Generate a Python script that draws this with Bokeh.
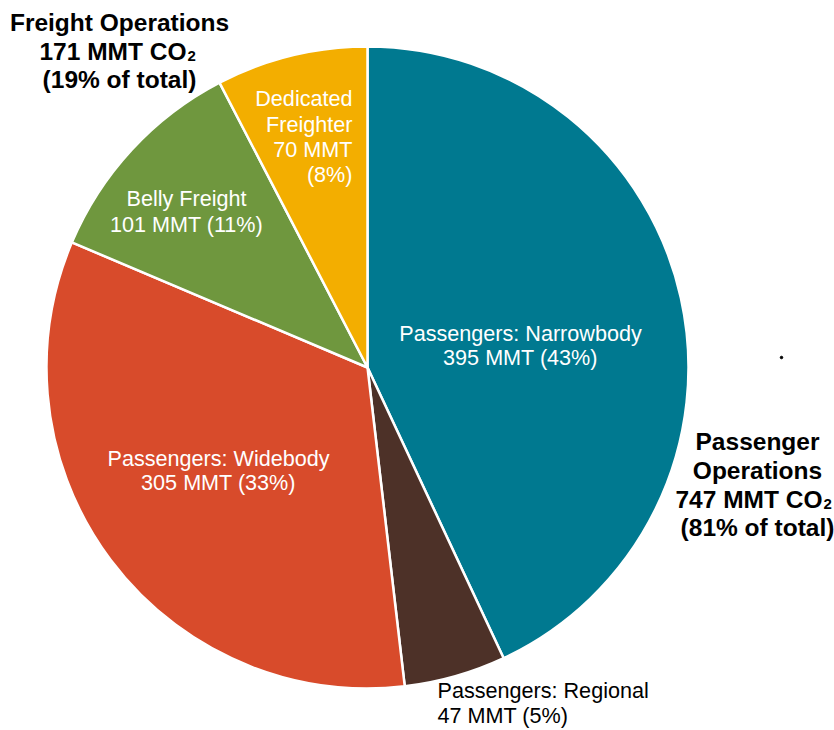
import math
from bokeh.plotting import figure
from bokeh.models import Range1d, ColumnDataSource
from bokeh.core.properties import value
from bokeh.embed import file_html
from bokeh.resources import INLINE

# ---------------- data ----------------
categories = ["Passengers: Narrowbody", "Passengers: Regional", "Passengers: Widebody",
              "Belly Freight", "Dedicated Freighter"]
emissions_mmt = [395, 47, 305, 101, 70]
shares_pct = [43, 5, 33, 11, 8]
colors = ["#007990", "#4D3128", "#D84B2B", "#6F973E", "#F3AE00"]

group_names = ["Freight Operations", "Passenger Operations"]
group_mmt = [171, 747]
group_pct = [19, 81]

# ---------------- layout ----------------
W, H = 834, 730
FONT = "Liberation Sans"
CX, CY_PAGE, R = 367, 367, 321
FS = "21.6px"
FSB = "24.5px"
TEXT_DY = -8


def Y(page_y):
    return H - page_y


def YT(page_y):
    return H - (page_y + TEXT_DY)


p = figure(width=W, height=H, output_backend="svg", toolbar_location=None,
           x_range=Range1d(0, W), y_range=Range1d(0, H), min_border=0)
p.axis.visible = False
p.grid.visible = False
p.outline_line_color = None
p.background_fill_color = "white"

total = sum(emissions_mmt)
starts, ends = [], []
cum = 0.0
for v in emissions_mmt:
    a0 = math.pi / 2 - 2 * math.pi * cum / total
    cum += v
    a1 = math.pi / 2 - 2 * math.pi * cum / total
    starts.append(a0)
    ends.append(a1)

src = ColumnDataSource(dict(start=starts, end=ends, color=colors, cat=categories))
p.wedge(x=CX, y=Y(CY_PAGE), radius=R, start_angle="start", end_angle="end",
        direction="clock", fill_color="color", line_color="white", line_width=2.5,
        source=src)

label_layout = {
    "Passengers: Narrowbody": dict(x=520, ys=[341, 365], align="center", color="white",
                                   lines=lambda c, v, s: [c, f"{v} MMT ({s}%)"]),
    "Passengers: Widebody": dict(x=218, ys=[466, 490], align="center", color="white",
                                 lines=lambda c, v, s: [c, f"{v} MMT ({s}%)"]),
    "Belly Freight": dict(x=186, ys=[206, 232], align="center", color="white",
                          lines=lambda c, v, s: [c, f"{v} MMT ({s}%)"]),
    "Dedicated Freighter": dict(x=352, ys=[106, 132, 157, 182], align="right", color="white",
                                lines=lambda c, v, s: c.split(" ") + [f"{v} MMT", f"({s}%)"]),
    "Passengers: Regional": dict(x=437, ys=[698, 723], align="left", color="black",
                                 lines=lambda c, v, s: [c, f"{v} MMT ({s}%)"]),
}

for c, v, s in zip(categories, emissions_mmt, shares_pct):
    L = label_layout[c]
    lines = L["lines"](c, v, s)
    p.text(x=[L["x"]] * len(lines), y=[YT(yy) for yy in L["ys"]], text=lines,
           text_font=value(FONT), text_font_size=FS, text_color=L["color"],
           text_align=L["align"], text_baseline="alphabetic")

group_layout = [
    dict(x=119, ys=[30, 59, 87], sub_right=186),
    dict(x=757, ys=[449, 478, 507, 535], sub_right=822),
]
for name, mmt, pct, G in zip(group_names, group_mmt, group_pct, group_layout):
    head = name.split(" ") if name.startswith("Passenger") else [name]
    ys = G["ys"]
    n = len(head)
    p.text(x=[G["x"]] * n, y=[YT(yy) for yy in ys[:n]], text=head,
           text_font=value(FONT), text_font_size=FSB, text_font_style="bold",
           text_color="black", text_align="center", text_baseline="alphabetic")
    p.text(x=[G["sub_right"]], y=[YT(ys[n])], text=[f"{mmt} MMT CO"],
           text_font=value(FONT), text_font_size=FSB, text_font_style="bold",
           text_color="black", text_align="right", text_baseline="alphabetic")
    p.text(x=[G["sub_right"] + 1], y=[YT(ys[n] + 4)], text=["2"],
           text_font=value(FONT), text_font_size="15px", text_font_style="bold",
           text_color="black", text_align="left", text_baseline="alphabetic")
    p.text(x=[G["x"]], y=[YT(ys[n + 1])], text=[f"({pct}% of total)"],
           text_font=value(FONT), text_font_size=FSB, text_font_style="bold",
           text_color="black", text_align="center", text_baseline="alphabetic")

p.scatter(x=[781], y=[Y(357)], size=2.5, color="black")

open("out.html", "w").write(file_html(p, INLINE))
